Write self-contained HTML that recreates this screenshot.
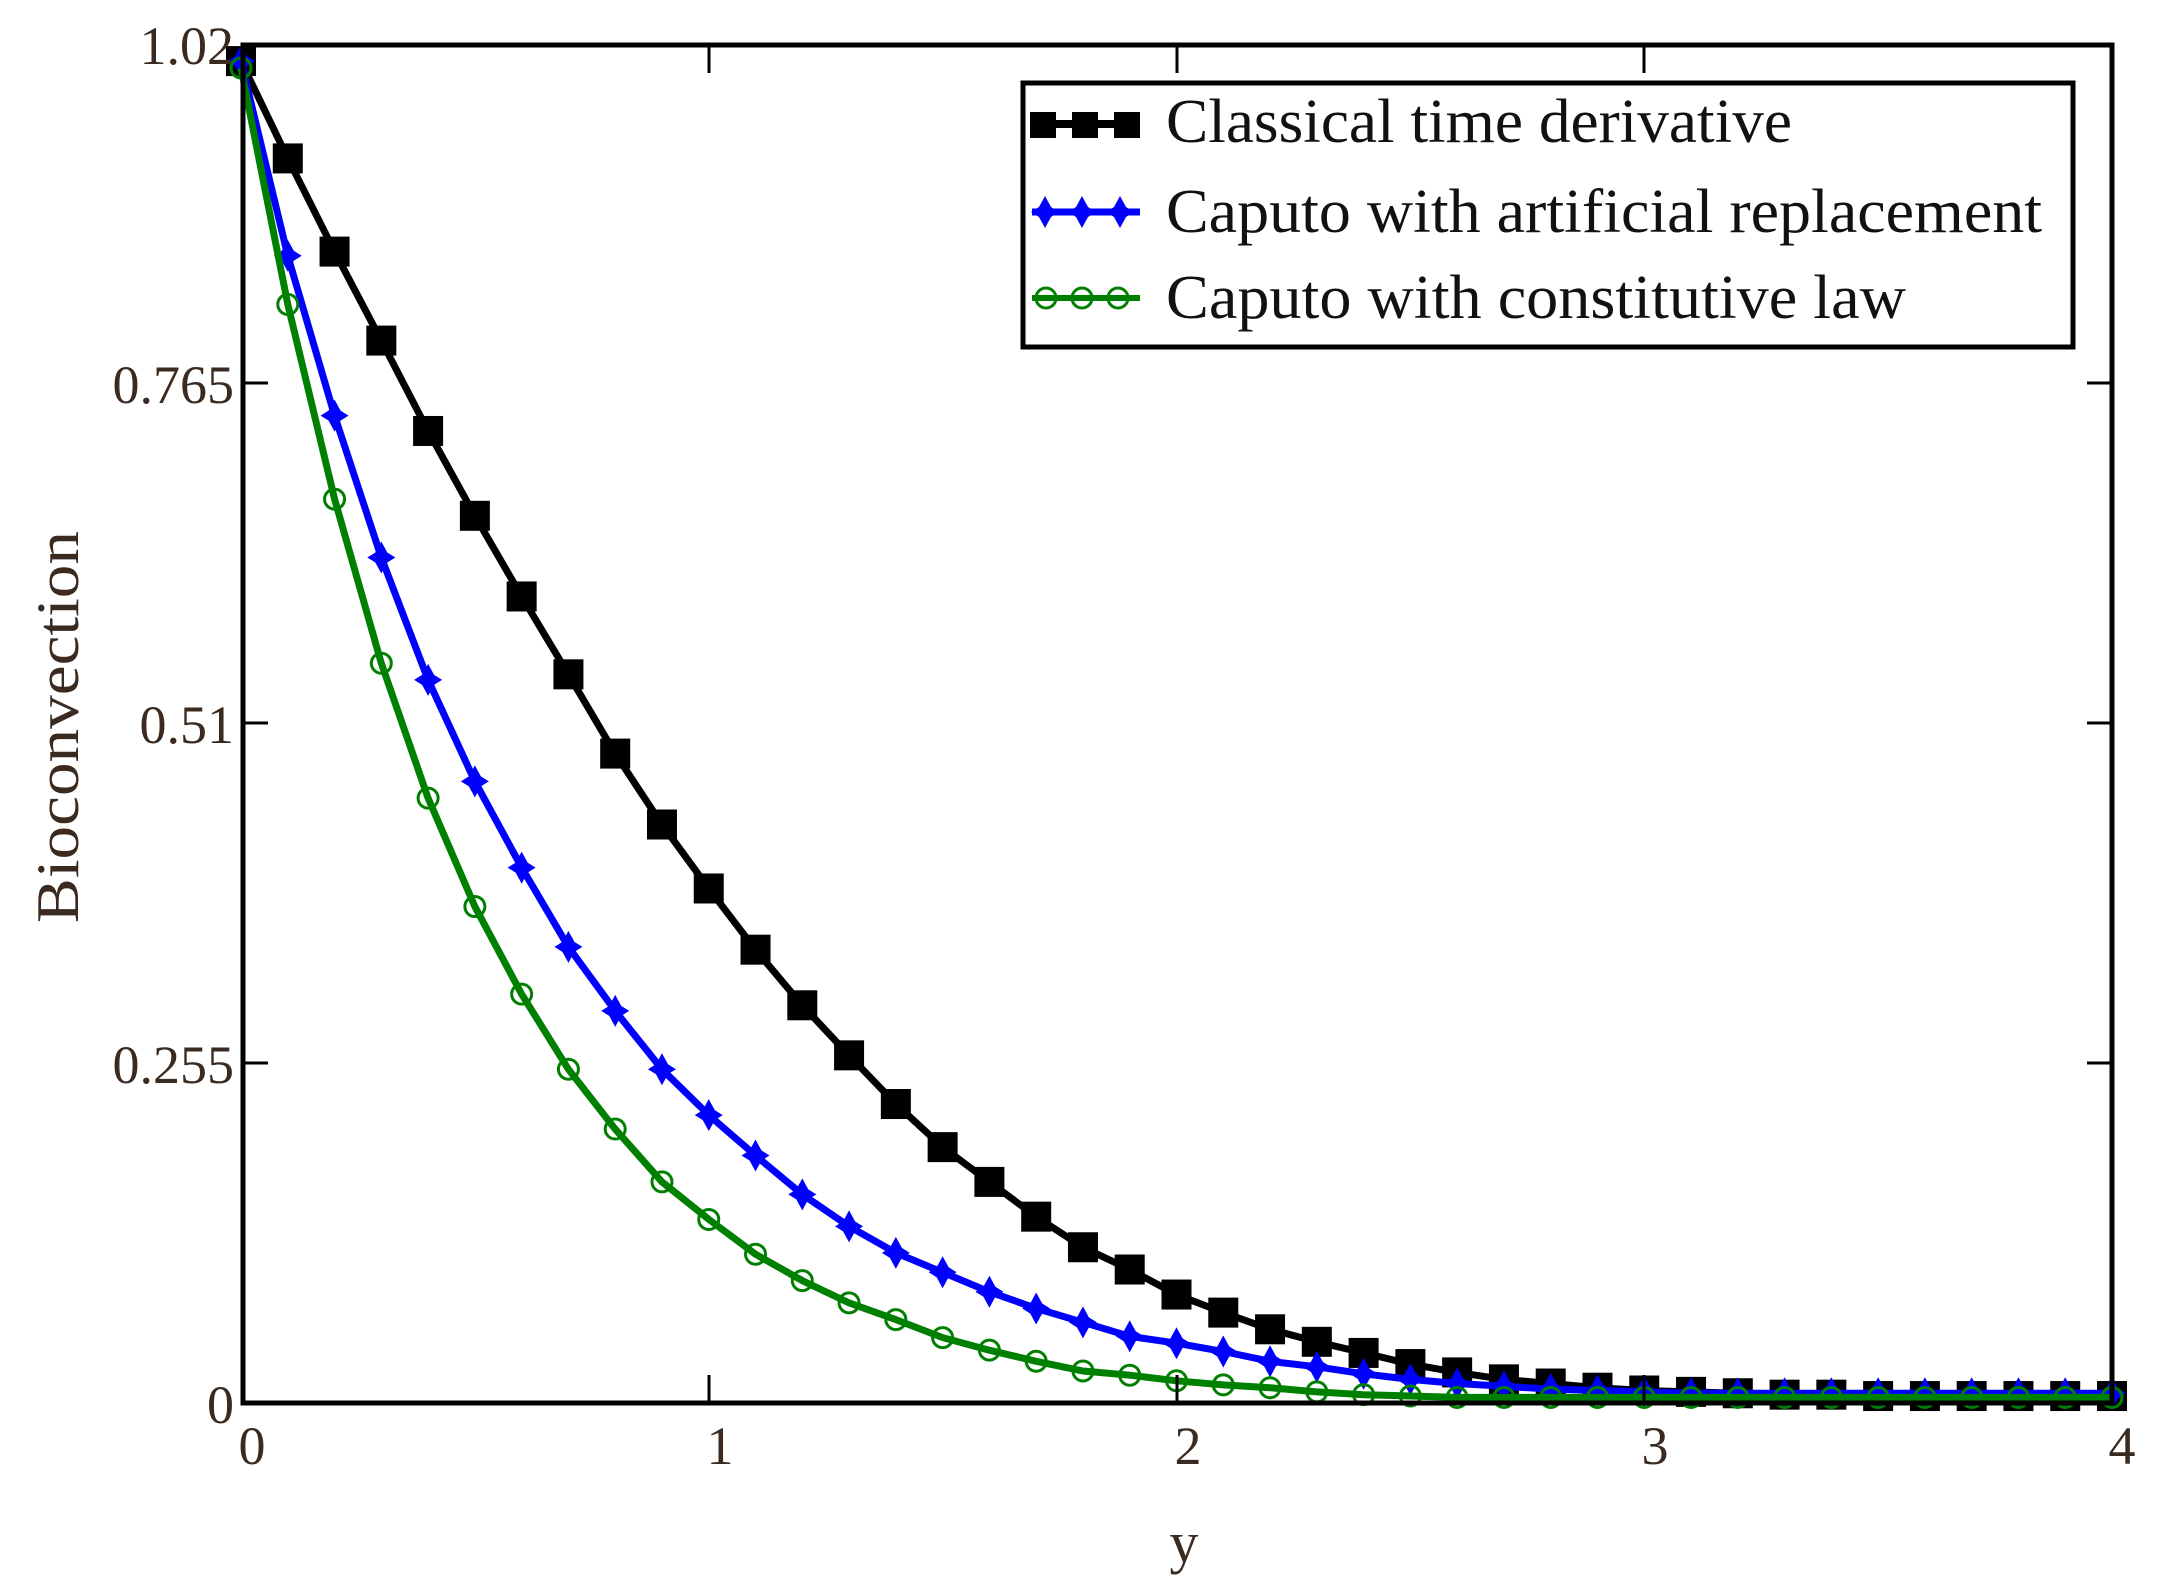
<!DOCTYPE html>
<html><head><meta charset="utf-8">
<style>html,body{margin:0;padding:0;background:#fff;width:2175px;height:1590px;overflow:hidden}</style>
</head><body>
<svg id="s" width="2175" height="1590" viewBox="0 0 2175 1590" xmlns="http://www.w3.org/2000/svg" font-family="Liberation Serif, serif">
<rect x="0" y="0" width="2175" height="1590" fill="#fff"/>
<g id="data"></g>
<rect x="243" y="45" width="1869" height="1358" fill="none" stroke="#000" stroke-width="5"/>
<g stroke="#000" stroke-width="3">
<line x1="709" y1="1403" x2="709" y2="1375"/><line x1="1177" y1="1403" x2="1177" y2="1375"/><line x1="1644" y1="1403" x2="1644" y2="1375"/>
<line x1="709" y1="45" x2="709" y2="73"/><line x1="1177" y1="45" x2="1177" y2="73"/><line x1="1644" y1="45" x2="1644" y2="73"/>
<line x1="243" y1="383" x2="268" y2="383"/><line x1="243" y1="723" x2="268" y2="723"/><line x1="243" y1="1063" x2="268" y2="1063"/>
<line x1="2112" y1="383" x2="2087" y2="383"/><line x1="2112" y1="723" x2="2087" y2="723"/><line x1="2112" y1="1063" x2="2087" y2="1063"/>
</g>
<g fill="#3a2a20" font-size="54" text-anchor="end">
<text x="234" y="64">1.02</text>
<text x="234" y="403">0.765</text>
<text x="234" y="743">0.51</text>
<text x="234" y="1083">0.255</text>
<text x="234" y="1423">0</text>
</g>
<g fill="#3a2a20" font-size="54" text-anchor="middle">
<text x="252" y="1464">0</text>
<text x="720" y="1464">1</text>
<text x="1188" y="1464">2</text>
<text x="1655" y="1464">3</text>
<text x="2122" y="1464">4</text>
<text x="1184" y="1562" font-size="58">y</text>
<text x="0" y="0" font-size="60" textLength="392" lengthAdjust="spacingAndGlyphs" transform="translate(78,727) rotate(-90)">Bioconvection</text>
</g>
<rect x="1023" y="83" width="1050" height="264" fill="#fff" stroke="#000" stroke-width="5"/>
<g font-size="62" fill="#111">
<text x="1166" y="142" textLength="626" lengthAdjust="spacingAndGlyphs">Classical time derivative</text>
<text x="1166" y="232" textLength="876" lengthAdjust="spacingAndGlyphs">Caputo with artificial replacement</text>
<text x="1166" y="318" textLength="740" lengthAdjust="spacingAndGlyphs">Caputo with constitutive law</text>
</g>
<g id="leg"></g>
</svg>
<script>
var NS="http://www.w3.org/2000/svg";
function el(t,a,p){var e=document.createElementNS(NS,t);for(var k in a)e.setAttribute(k,a[k]);p.appendChild(e);return e;}
function X(x){return 241+x*467.75;}
function Y(d){return 43+(d-32)*(1360/978);}
var blk=[45,115,182,246,311,372,430,486,543,594,640,684,724,760,795,826,851,876,898,914,932,945,957,966,974,982,988,993,996,999,1001,1002,1003,1004,1004,1005,1005,1005,1005,1005,1005];
var blu=[45,185,300,402,490,563,625,682,728,770,803,832,860,883,902,916,930,942,952,962,967,973,980,984,989,993,996,998,1000,1001,1002,1003,1003,1003,1003,1003,1003,1003,1003,1003,1003];
var grn=[50,220,360,478,575,653,716,770,813,851,878,903,922,938,950,963,972,980,987,990,994,997,999,1002,1004,1005,1006,1006,1006,1006,1006,1006,1006,1006,1006,1006,1006,1006,1006,1006,1006];
var g=document.getElementById("data");
function pts(a){return a.map(function(v,i){return X(i*0.1).toFixed(1)+","+Y(v).toFixed(1)}).join(" ");}
el("polyline",{points:pts(blk),fill:"none",stroke:"#000","stroke-width":7},g);
blk.forEach(function(v,i){el("rect",{x:X(i*0.1)-15,y:Y(v)-15,width:30,height:30,fill:"#000"},g);});
el("polyline",{points:pts(blu),fill:"none",stroke:"#0000ff","stroke-width":7},g);
function star(cx,cy,p,c){el("polygon",{points:[cx,cy-16,cx+6,cy-5,cx+14,cy,cx+6,cy+5,cx,cy+16,cx-6,cy+5,cx-14,cy,cx-6,cy-5].join(","),fill:c},p);}
blu.forEach(function(v,i){star(X(i*0.1),Y(v),g,"#0000ff");});
el("polyline",{points:pts(grn),fill:"none",stroke:"#008000","stroke-width":7},g);
grn.forEach(function(v,i){el("circle",{cx:X(i*0.1),cy:Y(v),r:10,fill:"none",stroke:"#008000","stroke-width":3},g);});
var L=document.getElementById("leg");
el("line",{x1:1032,y1:124,x2:1140,y2:124,stroke:"#000","stroke-width":8},L);
[1043,1085,1127].forEach(function(x){el("rect",{x:x-13,y:112,width:26,height:26,fill:"#000"},L);});
el("line",{x1:1032,y1:212,x2:1140,y2:212,stroke:"#0000ff","stroke-width":7},L);
[1045,1082,1120].forEach(function(x){star(x,212,L,"#0000ff");});
el("line",{x1:1032,y1:298,x2:1140,y2:298,stroke:"#008000","stroke-width":6},L);
[1046,1082,1118].forEach(function(x){el("circle",{cx:x,cy:298,r:10,fill:"none",stroke:"#008000","stroke-width":3},L);});
</script>
</body></html>
